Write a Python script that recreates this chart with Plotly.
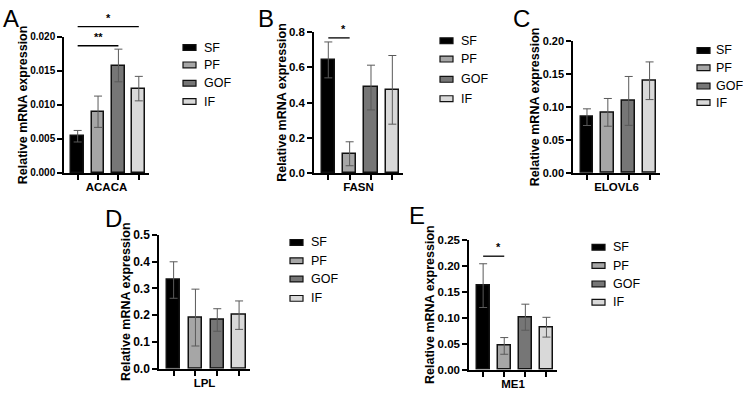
import plotly.graph_objects as go

W, H = 743, 398

groups = ["SF", "PF", "GOF", "IF"]
group_colors = ["#000000", "#a6a6a6", "#767676", "#d9d9d9"]

genes = ["ACACA", "FASN", "ELOVL6", "LPL", "ME1"]
panel_letters = ["A", "B", "C", "D", "E"]

acaca_mean = [0.0054, 0.0090, 0.0158, 0.0124]
acaca_err = [0.00085, 0.0023, 0.0024, 0.0018]
fasn_mean = [0.642, 0.109, 0.485, 0.472]
fasn_err = [0.102, 0.068, 0.127, 0.195]
elovl6_mean = [0.0844, 0.0917, 0.109, 0.1395]
elovl6_err = [0.0126, 0.021, 0.037, 0.0285]
lpl_mean = [0.331, 0.191, 0.182, 0.200]
lpl_err = [0.068, 0.106, 0.042, 0.053]
me1_mean = [0.1615, 0.0458, 0.1009, 0.0817]
me1_err = [0.042, 0.016, 0.025, 0.019]

y_max = [0.020, 0.8, 0.20, 0.5, 0.25]
y_dtick = [0.005, 0.2, 0.05, 0.1, 0.05]
y_format = [".3f", ".1f", ".2f", ".1f", ".2f"]

# significance brackets
sig_panel = [0, 0, 1, 4]
sig_from = [0, 0, 0, 0]
sig_to = [2, 3, 1, 1]
sig_height = [0.0187, 0.0215, 0.767, 0.218]
sig_label = ["**", "*", "*", "*"]

means = [acaca_mean, fasn_mean, elovl6_mean, lpl_mean, me1_mean]
errs = [acaca_err, fasn_err, elovl6_err, lpl_err, me1_err]

# ---- layout geometry (pixels) ----
ax_x0 = [64, 314, 573, 159, 469]
ax_x1 = [149, 403, 660, 250, 557]
ax_ytop = [31, 26, 35, 236, 241]
ax_ybot = [172, 172, 172, 375, 376]
tick_font = [10, 11.5, 11, 12, 11.5]
leg_x = [183, 440, 697, 290, 592]
leg_gap = [19, 19, 17, 19, 19]
leg_rows = [[42, 60, 79, 98], [35, 54, 75, 95], [45, 63, 82, 99],
            [244, 263, 282, 302], [249, 268, 287, 306]]
letter_pos = [(1, 12), (256, 12), (511, 12), (103, 219), (407, 216)]
XR = [-0.67, 3.5]

FONT = "Arial, Liberation Sans, sans-serif"

fig = go.Figure()
shapes = []
annotations = []

for k in range(5):
    sfx = "" if k == 0 else str(k + 1)
    fig.add_trace(go.Bar(
        x=[0, 1, 2, 3], y=means[k], width=0.62,
        name=genes[k], showlegend=False,
        marker=dict(color=group_colors, line=dict(color="#111111", width=1.5)),
        error_y=dict(type="data", array=errs[k], color="#5a5a5a", thickness=1, width=4),
        xaxis="x" + sfx, yaxis="y" + sfx,
        customdata=groups, hovertemplate="%{customdata}: %{y}<extra>" + genes[k] + "</extra>",
    ))
    fig.update_layout(**{
        "xaxis" + sfx: dict(
            domain=[ax_x0[k] / W, ax_x1[k] / W], anchor="y" + sfx, range=XR,
            showline=True, linecolor="black", linewidth=1.5,
            tickvals=[0, 1, 2, 3], ticks="outside", ticklen=5, tickwidth=1.5, tickcolor="black",
            showticklabels=False, showgrid=False, zeroline=False, fixedrange=True,
            title=dict(text="<b>" + genes[k] + "</b>", font=dict(family=FONT, size=11.5, color="black"), standoff=4),
        ),
        "yaxis" + sfx: dict(
            domain=[1 - ax_ybot[k] / H, 1 - ax_ytop[k] / H], anchor="x" + sfx,
            range=[0, y_max[k]], dtick=y_dtick[k], tick0=0, tickformat=y_format[k],
            showline=True, linecolor="black", linewidth=1.5,
            ticks="outside", ticklen=5, tickwidth=1.5, tickcolor="black",
            tickfont=dict(family=FONT, size=tick_font[k], color="black", weight="bold"),
            showgrid=False, zeroline=False, fixedrange=True,
            title=dict(text="<b>Relative mRNA expression</b>", font=dict(family=FONT, size=12.5, color="black"), standoff=0),
        ),
    })
    # legend (manual keys)
    for g in range(4):
        yc = leg_rows[k][g]
        shapes.append(dict(type="rect", xref="paper", yref="paper",
                           x0=leg_x[k] / W, x1=(leg_x[k] + 13) / W,
                           y0=1 - (yc + 3) / H, y1=1 - (yc - 3) / H,
                           fillcolor=group_colors[g], line=dict(color="#111111", width=1.2)))
        annotations.append(dict(text=groups[g], xref="paper", yref="paper",
                                x=(leg_x[k] + leg_gap[k]) / W, y=1 - yc / H, xanchor="left", yanchor="middle",
                                showarrow=False, font=dict(family=FONT, size=12.5, color="black")))
    lx, ly = letter_pos[k]
    annotations.append(dict(text=panel_letters[k], xref="paper", yref="paper",
                            x=lx / W, y=1 - ly / H, xanchor="left", yanchor="middle",
                            showarrow=False, font=dict(family=FONT, size=24, color="black")))

span = XR[1] - XR[0]
for s in range(len(sig_panel)):
    k = sig_panel[s]
    sfx = "" if k == 0 else str(k + 1)
    xa = (sig_from[s] - XR[0]) / span
    xb = (sig_to[s] - XR[0]) / span
    yv = sig_height[s] / y_max[k]
    shapes.append(dict(type="line", xref="x" + sfx + " domain", yref="y" + sfx + " domain",
                       x0=xa, x1=xb, y0=yv, y1=yv, line=dict(color="black", width=1.3)))
    annotations.append(dict(text="<b>" + sig_label[s] + "</b>", xref="x" + sfx + " domain",
                            yref="y" + sfx + " domain", x=(xa + xb) / 2, y=yv,
                            yanchor="bottom", showarrow=False, yshift=1,
                            font=dict(family=FONT, size=11, color="black")))

fig.update_layout(
    width=W, height=H, margin=dict(l=0, r=0, t=0, b=0),
    plot_bgcolor="white", paper_bgcolor="white",
    shapes=shapes, annotations=annotations, bargap=0,
)

fig.write_html("out.html", config={"displayModeBar": False},
               post_script="document.body.style.margin='0';")
